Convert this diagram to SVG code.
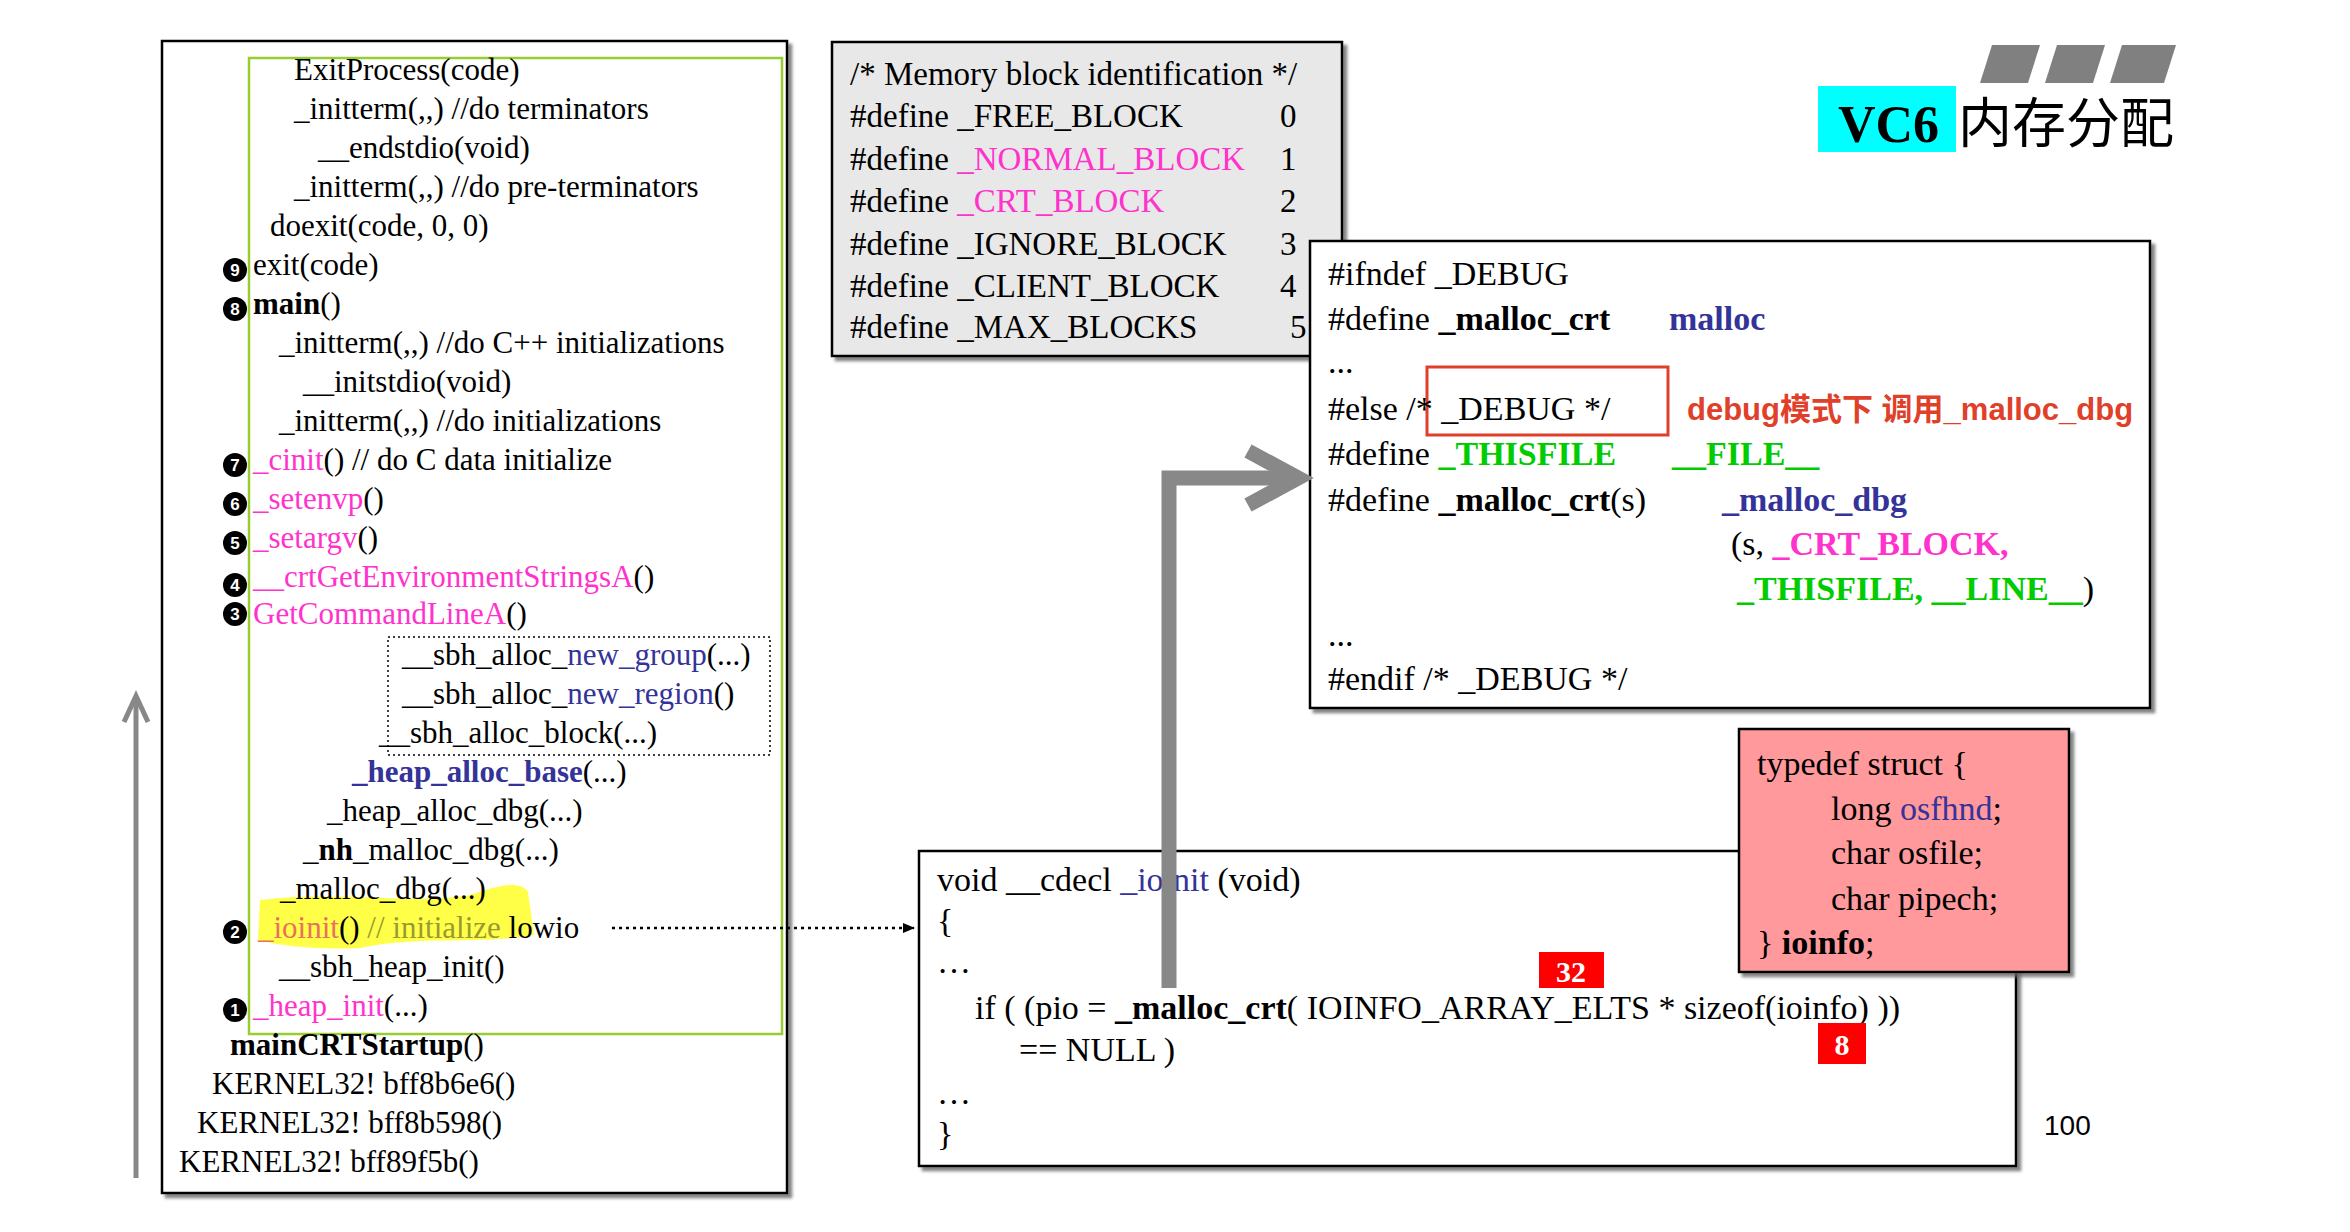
<svg xmlns="http://www.w3.org/2000/svg" width="2350" height="1232" viewBox="0 0 2350 1232">
<defs>
<style>
.t{font-family:"Liberation Serif","Noto Sans CJK SC",serif;font-size:31px;fill:#000}
.m{font-family:"Liberation Serif",serif;font-size:33px;fill:#000}
.c{font-family:"Liberation Serif",serif;font-size:34px;fill:#000}
.mg{fill:#ff33cc}
.bl{fill:#333399}
.gr{fill:#00cc00;font-weight:bold}
.b{font-weight:bold}
.num{font-family:"Liberation Sans",sans-serif;font-size:17px;font-weight:bold;fill:#fff}
.box{stroke:#000;stroke-width:2.5}
</style>
<filter id="sh" x="-5%" y="-5%" width="110%" height="110%"><feDropShadow dx="4" dy="4" stdDeviation="1.5" flood-color="#666" flood-opacity="0.8"/></filter>
<marker id="ah" markerWidth="12" markerHeight="10" refX="11" refY="5" orient="auto" markerUnits="userSpaceOnUse"><path d="M0,0 L12,5 L0,10 Z" fill="#000"/></marker>
</defs>
<rect width="2350" height="1232" fill="#fff"/>

<g id="callstack">
<rect x="162" y="41" width="625" height="1152" fill="#fff" class="box" filter="url(#sh)"/>
<rect x="249" y="58" width="533" height="976" fill="none" stroke="#99cc33" stroke-width="2.5"/>
<rect x="388" y="637" width="382" height="118" fill="none" stroke="#000" stroke-width="1.5" stroke-dasharray="2,3"/>
<path d="M260,900 C330,890 420,905 470,895 C500,885 520,880 528,892 L534,935 C480,945 420,935 360,948 C320,950 280,946 258,940 Z" fill="#ffff33" opacity="0.9"/>
<g xml:space="preserve">
<text class="t" x="294" y="80">ExitProcess(code)</text>
<text class="t" x="294" y="119">_initterm(,,)    //do terminators</text>
<text class="t" x="318" y="158">__endstdio(void)</text>
<text class="t" x="294" y="197">_initterm(,,)    //do pre-terminators</text>
<text class="t" x="270" y="236">doexit(code, 0, 0)</text>
<text class="t" x="253" y="275">exit(code)</text>
<text class="t" x="253" y="314"><tspan class="b">main</tspan>()</text>
<text class="t" x="279" y="353">_initterm(,,)   //do C++ initializations</text>
<text class="t" x="303" y="392">__initstdio(void)</text>
<text class="t" x="279" y="431">_initterm(,,)   //do initializations</text>
<text class="t" x="253" y="470"><tspan class="mg">_cinit</tspan>()   // do C data initialize</text>
<text class="t" x="253" y="509"><tspan class="mg">_setenvp</tspan>()</text>
<text class="t" x="253" y="548"><tspan class="mg">_setargv</tspan>()</text>
<text class="t" x="253" y="587"><tspan class="mg">__crtGetEnvironmentStringsA</tspan>()</text>
<text class="t" x="253" y="624"><tspan class="mg">GetCommandLineA</tspan>()</text>
<text class="t" x="402" y="665">__sbh_alloc_<tspan class="bl">new_group</tspan>(...)</text>
<text class="t" x="402" y="704">__sbh_alloc_<tspan class="bl">new_region</tspan>()</text>
<text class="t" x="379" y="743">__sbh_alloc_block(...)</text>
<text class="t" x="352" y="782"><tspan class="bl b">_heap_alloc_base</tspan>(...)</text>
<text class="t" x="327" y="821">_heap_alloc_dbg(...)</text>
<text class="t" x="303" y="860">_<tspan class="b">nh</tspan>_malloc_dbg(...)</text>
<text class="t" x="280" y="899">_malloc_dbg(...)</text>
<text class="t" x="258" y="938"><tspan fill="#e87060">_ioinit</tspan>()  <tspan fill="#999933">// initialize</tspan> lowio</text>
<text class="t" x="279" y="977">__sbh_heap_init()</text>
<text class="t" x="253" y="1016"><tspan class="mg">_heap_init</tspan>(...)</text>
<text class="t b" x="230" y="1055">mainCRTStartup<tspan font-weight="normal">()</tspan></text>
<text class="t" x="212" y="1094">KERNEL32! bff8b6e6()</text>
<text class="t" x="197" y="1133">KERNEL32! bff8b598()</text>
<text class="t" x="179" y="1172">KERNEL32! bff89f5b()</text>
</g>
<g>
<circle cx="235" cy="270" r="12"/><text class="num" x="235" y="276" text-anchor="middle">9</text>
<circle cx="235" cy="309" r="12"/><text class="num" x="235" y="315" text-anchor="middle">8</text>
<circle cx="235" cy="465" r="12"/><text class="num" x="235" y="471" text-anchor="middle">7</text>
<circle cx="235" cy="504" r="12"/><text class="num" x="235" y="510" text-anchor="middle">6</text>
<circle cx="235" cy="543" r="12"/><text class="num" x="235" y="549" text-anchor="middle">5</text>
<circle cx="235" cy="585" r="12"/><text class="num" x="235" y="591" text-anchor="middle">4</text>
<circle cx="235" cy="614" r="12"/><text class="num" x="235" y="620" text-anchor="middle">3</text>
<circle cx="235" cy="932" r="12"/><text class="num" x="235" y="938" text-anchor="middle">2</text>
<circle cx="235" cy="1010" r="12"/><text class="num" x="235" y="1016" text-anchor="middle">1</text>
</g>
</g>

<g id="memblock">
<rect x="832" y="42" width="510" height="314" fill="#e8e8e8" class="box" filter="url(#sh)"/>
<g xml:space="preserve">
<text class="m" x="850" y="85">/* Memory block identification */</text>
<text class="m" x="850" y="127">#define _FREE_BLOCK</text><text class="m" x="1280" y="127">0</text>
<text class="m" x="850" y="170">#define <tspan class="mg">_NORMAL_BLOCK</tspan></text><text class="m" x="1280" y="170">1</text>
<text class="m" x="850" y="212">#define <tspan class="mg">_CRT_BLOCK</tspan></text><text class="m" x="1280" y="212">2</text>
<text class="m" x="850" y="255">#define _IGNORE_BLOCK</text><text class="m" x="1280" y="255">3</text>
<text class="m" x="850" y="297">#define _CLIENT_BLOCK</text><text class="m" x="1280" y="297">4</text>
<text class="m" x="850" y="338">#define _MAX_BLOCKS</text><text class="m" x="1290" y="338">5</text>
</g>
</g>

<g id="title">
<polygon points="1992,45 2040,45 2028,83 1980,83" fill="#808080"/>
<polygon points="2057,45 2105,45 2093,83 2045,83" fill="#808080"/>
<polygon points="2122,45 2176,45 2164,83 2110,83" fill="#808080"/>
<rect x="1818" y="86" width="138" height="66" fill="#00ffff"/>
<text x="1838" y="142" font-family="Liberation Serif,serif" font-size="52" font-weight="bold">VC6</text>
<text x="1958" y="143" font-family="Noto Sans CJK SC,sans-serif" font-size="54">内存分配</text>
</g>

<g id="debugbox">
<rect x="1310" y="241" width="840" height="467" fill="#fff" class="box" filter="url(#sh)"/>
<rect x="1427" y="367" width="241" height="68" fill="none" stroke="#e0402a" stroke-width="3"/>
<g xml:space="preserve">
<text class="c" x="1328" y="285">#ifndef _DEBUG</text>
<text class="c" x="1328" y="330">#define <tspan class="b">_malloc_crt</tspan></text><text class="c bl b" x="1669" y="330">malloc</text>
<text class="c" x="1328" y="373">...</text>
<text class="c" x="1328" y="420">#else  /* _DEBUG */</text>
<text class="c" x="1328" y="465">#define <tspan class="gr">_THISFILE</tspan></text><text class="c gr" x="1672" y="465">__FILE__</text>
<text class="c" x="1328" y="511">#define <tspan class="b">_malloc_crt</tspan>(s)</text><text class="c bl b" x="1722" y="511">_malloc_dbg</text>
<text class="c" x="1731" y="555">(s, <tspan class="mg b">_CRT_BLOCK,</tspan></text>
<text class="c" x="1737" y="600"><tspan class="gr">_THISFILE, __LINE__</tspan>)</text>
<text class="c" x="1328" y="646">...</text>
<text class="c" x="1328" y="690">#endif  /* _DEBUG */</text>
</g>
<text x="1687" y="420" font-family="Liberation Sans,Noto Sans CJK SC,sans-serif" font-size="31" font-weight="bold" fill="#e0402a">debug模式下 调用_malloc_dbg</text>
</g>

<g id="ioinitbox">
<rect x="919" y="851" width="1097" height="315" fill="#fff" class="box" filter="url(#sh)"/>
<g xml:space="preserve">
<text class="c" x="937" y="891">void  __cdecl <tspan class="bl">_ioinit</tspan> (void)</text>
<text class="c" x="937" y="932">{</text>
<text class="c" x="937" y="973">…</text>
<text class="c" x="975" y="1019">if ( (pio = <tspan class="b">_malloc_crt</tspan>( IOINFO_ARRAY_ELTS * sizeof(ioinfo) ))</text>
<text class="c" x="1019" y="1061">== NULL )</text>
<text class="c" x="937" y="1104">…</text>
<text class="c" x="937" y="1145">}</text>
</g>
<rect x="1539" y="952" width="65" height="36" fill="#ff0000"/>
<text x="1571" y="982" text-anchor="middle" font-family="Liberation Serif,serif" font-size="30" font-weight="bold" fill="#fff">32</text>
<rect x="1818" y="1023" width="48" height="41" fill="#ff0000"/>
<text x="1842" y="1055" text-anchor="middle" font-family="Liberation Serif,serif" font-size="30" font-weight="bold" fill="#fff">8</text>
</g>

<g id="structbox">
<rect x="1739" y="729" width="330" height="243" fill="#ff999c" class="box" filter="url(#sh)"/>
<text class="c" x="1757" y="775">typedef struct {</text>
<text class="c" x="1831" y="820">long <tspan class="bl">osfhnd</tspan>;</text>
<text class="c" x="1831" y="864">char osfile;</text>
<text class="c" x="1831" y="910">char pipech;</text>
<text class="c" x="1757" y="954">}  <tspan class="b">ioinfo</tspan>;</text>
</g>

<text x="2044" y="1135" font-family="Liberation Sans,sans-serif" font-size="28">100</text>

<g id="connectors" fill="none">
<path d="M136,1178 L136,698" stroke="#888" stroke-width="5"/>
<path d="M124,722 L136,696 L148,722" stroke="#888" stroke-width="5"/>
<path d="M1169,988 L1169,478 L1290,478" stroke="#888" stroke-width="15"/>
<path d="M1248,451 L1298,478 L1248,505" stroke="#888" stroke-width="15" stroke-linejoin="miter"/>
<path d="M612,928 L914,928" stroke="#000" stroke-width="2.5" stroke-dasharray="3,4" marker-end="url(#ah)"/>
</g>
</svg>
